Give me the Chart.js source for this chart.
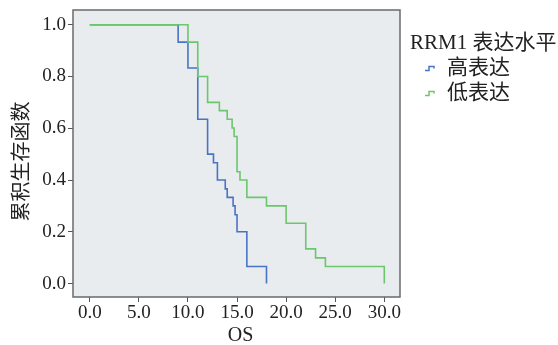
<!DOCTYPE html>
<html>
<head>
<meta charset="utf-8">
<script src="https://cdn.jsdelivr.net/npm/chart.js@4/dist/chart.umd.min.js"></script>
<style>
html,body{margin:0;padding:0;background:#fff;}
canvas{display:block;}
</style>
</head>
<body>
<canvas id="c" width="558" height="345"></canvas>
<script>
// Survival time (OS) at each drop and survival value after the drop
const highTimes  = [0, 9, 10, 11, 12, 12.6, 13, 13.8, 14, 14.6, 14.8, 15, 16, 18];
const highValues = [1.0, 0.933, 0.833, 0.635, 0.50, 0.467, 0.40, 0.366, 0.333, 0.30, 0.266, 0.20, 0.066, 0.0];
const lowTimes   = [0, 10, 11, 12, 13.2, 14, 14.5, 14.7, 15, 15.3, 16, 18, 20, 22, 23, 24, 30];
const lowValues  = [1.0, 0.933, 0.80, 0.70, 0.668, 0.635, 0.601, 0.568, 0.432, 0.40, 0.333, 0.30, 0.233, 0.134, 0.099, 0.066, 0.0];
const seriesNames = ['高表达', '低表达'];
const legendTitle = 'RRM1 表达水平';
const xTicks = [0, 5, 10, 15, 20, 25, 30];
const yTicks = [0, 0.2, 0.4, 0.6, 0.8, 1.0];
const xTitle = 'OS';
const yTitle = '累积生存函数';

const BLUE = '#4a73c5';
const GREEN = '#6cc66e';
const FONT = '"Liberation Serif", "Noto Sans CJK SC", serif';

function pts(ts, vs){ return ts.map((t,i)=>({x:t, y:vs[i]})); }

const decor = {
  id: 'decor',
  beforeDatasetsDraw(chart){
    const {ctx, chartArea:a} = chart;
    ctx.save();
    ctx.fillStyle = '#e8ecef';
    ctx.fillRect(a.left, a.top, a.right-a.left, a.bottom-a.top);
    ctx.restore();
  },
  afterDraw(chart){
    const {ctx, chartArea:a} = chart;
    ctx.save();
    ctx.strokeStyle = '#6a6a6a';
    ctx.lineWidth = 1.5;
    ctx.strokeRect(a.left, a.top, a.right-a.left, a.bottom-a.top);
    // axis titles
    ctx.fillStyle = '#222';
    ctx.font = '20px ' + FONT;
    ctx.textAlign = 'center';
    ctx.textBaseline = 'middle';
    ctx.fillText(xTitle, 240.5, 336);
    ctx.save();
    ctx.translate(23, 161.5);
    ctx.rotate(-Math.PI/2);
    ctx.fillText(yTitle, 0, 0);
    ctx.restore();
    // legend
    ctx.textAlign = 'left';
    ctx.font = '21px ' + FONT;
    ctx.fillText(legendTitle, 410, 43);
    const colors = [BLUE, GREEN];
    const ys = [68.5, 93.5];
    for (let i=0;i<seriesNames.length;i++){
      const y = ys[i];
      ctx.strokeStyle = colors[i];
      ctx.lineWidth = 1.5;
      ctx.beginPath();
      ctx.moveTo(425, y+2);
      ctx.lineTo(429, y+2);
      ctx.lineTo(429, y-2);
      ctx.lineTo(434, y-2);
      ctx.lineTo(434, y);
      ctx.stroke();
      ctx.fillStyle = '#222';
      ctx.fillText(seriesNames[i], 447, y);
    }
    ctx.restore();
  }
};

new Chart(document.getElementById('c'), {
  type: 'line',
  data: {
    datasets: [
      { label: seriesNames[1], data: pts(lowTimes, lowValues), borderColor: GREEN, borderWidth: 1.6, stepped: 'before', pointRadius: 0, fill: false },
      { label: seriesNames[0], data: pts(highTimes, highValues), borderColor: BLUE, borderWidth: 1.6, stepped: 'before', pointRadius: 0, fill: false }
    ]
  },
  options: {
    responsive: false,
    animation: false,
    devicePixelRatio: 1,
    layout: { padding: { top: 10, right: 158, left: 0, bottom: 0 } },
    plugins: { legend: { display: false }, tooltip: { enabled: false } },
    scales: {
      x: {
        type: 'linear', min: -1.71, max: 31.6,
        afterBuildTicks(s){ s.ticks = xTicks.map(v=>({value:v})); },
        afterFit(s){ s.height = 48; s.paddingLeft = 0; s.paddingRight = 0; },
        ticks: { callback: v => Number(v).toFixed(1), font: { family: FONT, size: 19 }, color: '#222', padding: 0, maxRotation: 0, autoSkip: false },
        grid: { drawOnChartArea: false, drawTicks: true, tickLength: 5, color: '#555', tickWidth: 1 },
        border: { display: false }
      },
      y: {
        type: 'linear', min: -0.052, max: 1.057,
        afterBuildTicks(s){ s.ticks = yTicks.map(v=>({value:v})); },
        afterFit(s){ s.width = 73; s.paddingTop = 0; s.paddingBottom = 0; },
        ticks: { callback: v => Number(v).toFixed(1), font: { family: FONT, size: 19 }, color: '#222', padding: 2, autoSkip: false },
        grid: { drawOnChartArea: false, drawTicks: true, tickLength: 5, color: '#555', tickWidth: 1 },
        border: { display: false }
      }
    }
  },
  plugins: [decor]
});
</script>
</body>
</html>
